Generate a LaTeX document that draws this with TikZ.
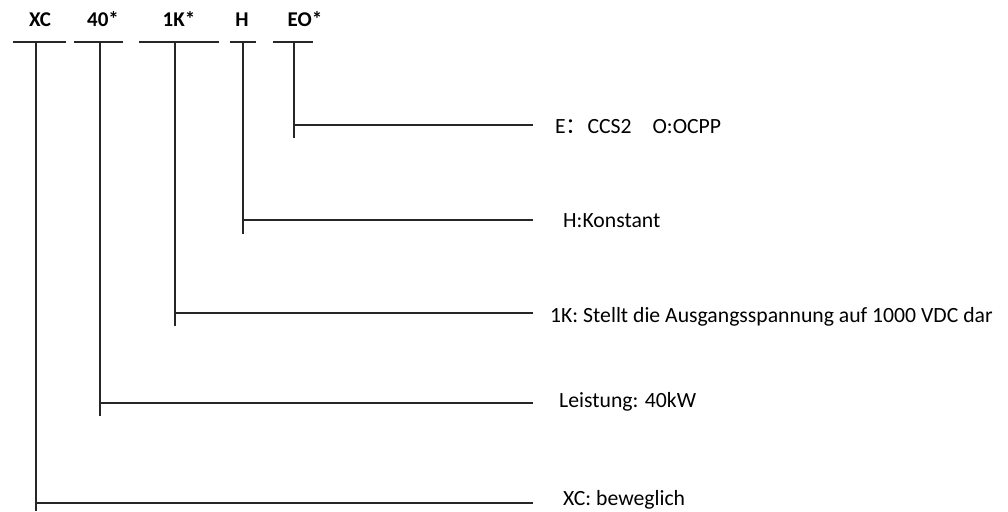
\documentclass[tikz,border=0pt]{standalone}
\usepackage{fontspec}
\setmainfont{Carlito}
\newfontfamily\cjk{Noto Sans CJK SC}
\begin{document}
\begin{tikzpicture}[x=1pt,y=-1pt,
  code/.style={font=\fontsize{21}{25}\selectfont\bfseries, inner sep=0pt, anchor=base},
  desc/.style={font=\fontsize{21.7}{26}\selectfont, inner sep=0pt, anchor=base west},
  ln/.style={line width=1.3pt, black!85}]
\useasboundingbox (0,0) rectangle (1008,511);
% code labels
\node[code] (lXC) at (40,27) {XC};
\node[code] (l40) at (103,27) {40*};
\node[code] (l1K) at (179,27) {1K*};
\node[code] (lH) at (242,27) {H};
\node[code] (lEO) at (305,27) {EO*};
% bars under codes
\coordinate (bXCa) at (13,42);  \coordinate (bXCb) at (66,42);
\coordinate (b40a) at (74,42);  \coordinate (b40b) at (123,42);
\coordinate (b1Ka) at (139,42); \coordinate (b1Kb) at (219,42);
\coordinate (bHa) at (230,42);  \coordinate (bHb) at (256,42);
\coordinate (bEOa) at (273,42); \coordinate (bEOb) at (313,42);
\draw[ln] (bXCa) -- (bXCb);
\draw[ln] (b40a) -- (b40b);
\draw[ln] (b1Ka) -- (b1Kb);
\draw[ln] (bHa) -- (bHb);
\draw[ln] (bEOa) -- (bEOb);
% descriptions
\node[desc] (dEO) at (555,133) {E{\cjk ：}CCS2\hspace{21pt}O:OCPP};
\node[desc] (dH) at (563,227) {H:Konstant};
\node[desc] (d1K) at (550,322) {1K: Stellt die Ausgangsspannung auf 1000 VDC dar};
\node[desc] (d40) at (559,407) {Leistung: 40kW};
\node[desc] (dXC) at (563,505) {XC: beweglich};
% vertical stems
\coordinate (tXC) at (36,42);  \coordinate (eXC) at (36,511);
\coordinate (t40) at (100,42); \coordinate (e40) at (100,416);
\coordinate (t1K) at (175,42); \coordinate (e1K) at (175,326);
\coordinate (tH) at (243,42);  \coordinate (eH) at (243,234);
\coordinate (tEO) at (294,42); \coordinate (eEO) at (294,138);
\draw[ln] (tXC) -- (eXC);
\draw[ln] (t40) -- (e40);
\draw[ln] (t1K) -- (e1K);
\draw[ln] (tH) -- (eH);
\draw[ln] (tEO) -- (eEO);
% horizontal leaders
\coordinate (hXC) at (36,503);  \coordinate (rXC) at (533,503);
\coordinate (h40) at (100,403); \coordinate (r40) at (533,403);
\coordinate (h1K) at (175,313); \coordinate (r1K) at (533,313);
\coordinate (hH) at (243,220);  \coordinate (rH) at (533,220);
\coordinate (hEO) at (294,125); \coordinate (rEO) at (533,125);
\draw[ln] (hXC) -- (rXC);
\draw[ln] (h40) -- (r40);
\draw[ln] (h1K) -- (r1K);
\draw[ln] (hH) -- (rH);
\draw[ln] (hEO) -- (rEO);
\end{tikzpicture}
\end{document}
